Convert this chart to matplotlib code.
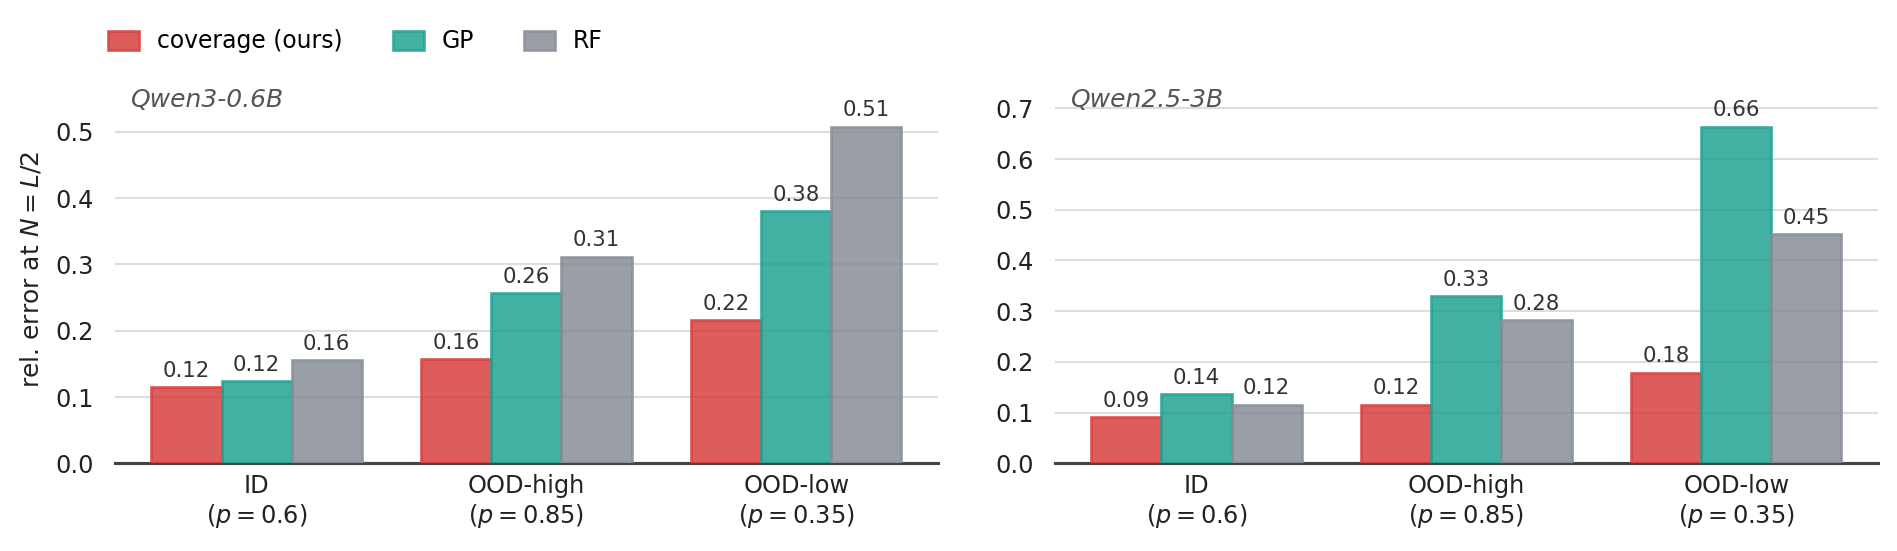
import numpy as np
from matplotlib import pyplot as plt

plt.rcParams['font.family'] = ['DejaVu Sans']
plt.rcParams['font.size'] = 11.5

# data
conditions = ['ID', 'OOD-high', 'OOD-low']
p_values = ['0.6', '0.85', '0.35']
methods = ['coverage (ours)', 'GP', 'RF']
models = ['Qwen3-0.6B', 'Qwen2.5-3B']

qwen3_coverage = [0.115, 0.157, 0.216]
qwen3_gp = [0.124, 0.257, 0.380]
qwen3_rf = [0.156, 0.312, 0.508]

qwen25_coverage = [0.091, 0.116, 0.179]
qwen25_gp = [0.136, 0.330, 0.664]
qwen25_rf = [0.116, 0.283, 0.452]

colors = ['#d73f3f', '#22a294', '#888d97']

fig = plt.figure(figsize=(1897 / 150, 551 / 150), dpi=150)
ax1 = fig.add_axes([0.0606, 0.159, 0.4338, 0.703])
ax2 = fig.add_axes([0.5561, 0.159, 0.4338, 0.703])

panels = [
    (ax1, models[0], [qwen3_coverage, qwen3_gp, qwen3_rf]),
    (ax2, models[1], [qwen25_coverage, qwen25_gp, qwen25_rf]),
]

x = np.arange(len(conditions))
width = 0.26
xlabels = [f'{c}\n($p = {p}$)' for c, p in zip(conditions, p_values)]

for ax, name, series in panels:
    for i, (vals, col, lab) in enumerate(zip(series, colors, methods)):
        bars = ax.bar(x + (i - 1) * width, vals, width, color=col, alpha=0.85,
                      edgecolor=col, linewidth=1.3, label=lab, zorder=3)
        for b, v in zip(bars, vals):
            ax.annotate(f'{v:.2f}', (b.get_x() + b.get_width() / 2, v),
                        xytext=(0, 3), textcoords='offset points',
                        ha='center', va='bottom', fontsize=10.2, color='#333333')
    ymax = max(max(s) for s in series)
    ax.set_ylim(0, ymax * 1.15)
    ax.set_xlim(-0.525, 2.525)
    ax.set_xticks(x)
    ax.set_xticklabels(xlabels, color='#222222')
    ax.grid(axis='y', color='#dddddd', linewidth=1, zorder=0)
    ax.set_axisbelow(True)
    for s in ['left', 'right', 'top']:
        ax.spines[s].set_visible(False)
    ax.spines['bottom'].set_color('#444444')
    ax.spines['bottom'].set_linewidth(1.5)
    ax.tick_params(length=0, colors='#222222')
    ax.tick_params(axis='x', pad=5)
    ax.tick_params(axis='y', pad=10)
    ax.text(0.02, 0.968, name, transform=ax.transAxes, style='italic',
            color='#555555', fontsize=12, va='top', ha='left')

ax1.set_ylabel('rel. error at $N = L/2$', color='#222222', fontsize=12,
               labelpad=6)

handles, labels = ax1.get_legend_handles_labels()
fig.legend(handles, labels, loc='upper left', bbox_to_anchor=(0.046, 0.985),
           ncol=3, frameon=False, fontsize=11.3, handlelength=1.3,
           handleheight=0.9, handletextpad=0.75, columnspacing=2.15)

fig.savefig('out.png', dpi=150)
